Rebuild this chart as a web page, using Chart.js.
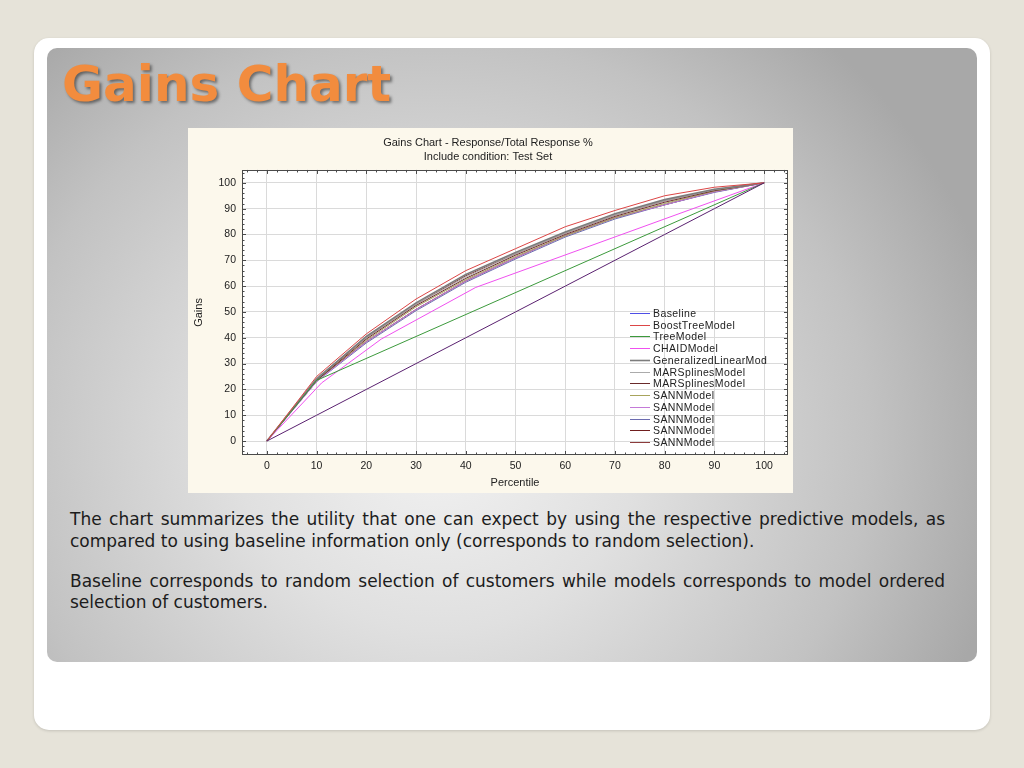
<!DOCTYPE html>
<html>
<head>
<meta charset="utf-8">
<title>Gains Chart</title>
<script src="https://cdn.jsdelivr.net/npm/chart.js@4.4.1/dist/chart.umd.min.js"></script>
<style>
  html, body { margin: 0; padding: 0; }
  body { width: 1024px; height: 768px; background: #e6e3d9; position: relative; overflow: hidden; }
  .card { position: absolute; left: 34px; top: 38px; width: 956px; height: 692px; background: #fff;
          border-radius: 15px; box-shadow: 0 1px 3px rgba(0,0,0,0.15); }
  .panel { position: absolute; left: 47px; top: 48px; width: 930px; height: 614px; border-radius: 10px;
           background: radial-gradient(ellipse 62% 88% at 42% 64%, #f2f2f2 0%, #e0e0e0 35%, #c2c2c2 75%, #a8a8a8 100%); }
  .title { position: absolute; left: 62px; top: 59px; margin: 0; font: bold 50px "DejaVu Sans", Verdana, sans-serif;
           line-height: 1; color: #f28c3e; text-shadow: 2px 2px 3px rgba(0,0,0,0.45); white-space: nowrap; }
  .chartbox { position: absolute; left: 188px; top: 128px; width: 605px; height: 365px; background: #fcf8ec; }
  .text { position: absolute; left: 70px; top: 509px; width: 875px; font: 17px "DejaVu Sans", Verdana, sans-serif;
          line-height: 21.5px; color: #1c1c1c; }
  .text div { text-align: justify; white-space: nowrap; }
  .text .full { text-align-last: justify; }
  .text .gap { height: 18.5px; }
</style>
</head>
<body>
<div class="card"></div>
<div class="panel"></div>
<h1 class="title">Gains Chart</h1>
<div class="chartbox"><canvas id="gains"></canvas></div>
<div class="text">
  <div class="full">The chart summarizes the utility that one can expect by using the respective predictive models, as</div>
  <div>compared to using baseline information only (corresponds to random selection).</div>
  <div class="gap"></div>
  <div class="full">Baseline corresponds to random selection of customers while models corresponds to model ordered</div>
  <div>selection of customers.</div>
</div>
<script>
// tick labels
const xTicks = [0, 10, 20, 30, 40, 50, 60, 70, 80, 90, 100];
const yTicks = [0, 10, 20, 30, 40, 50, 60, 70, 80, 90, 100];

// percentiles where most model curves bend
const percentiles = [0, 10, 20, 30, 40, 50, 60, 70, 80, 90, 100];

// series values (gains %)
const baseline      = [0, 10, 20, 30, 40, 50, 60, 70, 80, 90, 100];
const boostTree     = [0, 25, 41.5, 55, 66, 74.5, 83, 89.3, 95, 98.3, 100];
const treeX         = [0, 10, 100];
const treeModel     = [0, 23.5, 100];
const chaidX        = [0, 11, 23, 42, 100];
const chaidModel    = [0, 22.5, 39.5, 59.5, 100];
const glmModel      = [0, 24, 40.5, 53.5, 64.5, 73, 81, 88, 93.5, 97.5, 100];
const marsModel1    = [0, 24.5, 40, 53, 63.5, 72.5, 80.5, 87.5, 93, 97.3, 100];
const marsModel2    = [0, 23.5, 39.5, 52.5, 63, 72, 80, 87, 92.5, 97, 100];
const sann1         = [0, 23.5, 39, 52, 62.5, 71.5, 79.5, 86.5, 92, 96.8, 100];
const sann2         = [0, 23, 38.5, 51, 62, 71, 79.5, 86.5, 91.5, 96.5, 100];
const sann3         = [0, 23, 38, 50.5, 61.5, 70.5, 79, 86, 91.5, 96.3, 100];
const sann4         = [0, 23.5, 38.5, 51, 62, 71, 79.5, 86.5, 91.5, 96.5, 100];
const sann5         = [0, 24, 40, 53, 64, 72.5, 80.5, 87.5, 93, 97.2, 100];

function pts(xs, ys) {
  return xs.map((x, i) => ({ x: x, y: ys[i] }));
}

function series(label, xs, ys, color, width, legendColor) {
  return {
    label: label,
    data: pts(xs, ys),
    borderColor: color,
    backgroundColor: color,
    borderWidth: width || 1,
    legendColor: legendColor || color,
    pointRadius: 0,
    fill: false,
    tension: 0
  };
}

const chartFont = '"Liberation Sans", Arial, sans-serif';

// white plotting area + framed border with small ticks
const framePlugin = {
  id: 'frame',
  beforeDraw(chart) {
    const a = chart.chartArea, ctx = chart.ctx;
    ctx.save();
    ctx.fillStyle = '#ffffff';
    ctx.fillRect(a.left, a.top, a.right - a.left, a.bottom - a.top);
    ctx.restore();
  },
  afterDraw(chart) {
    const a = chart.chartArea, ctx = chart.ctx;
    const xs = chart.scales.x, ys = chart.scales.y;
    ctx.save();
    ctx.strokeStyle = '#4a4a4a';
    ctx.lineWidth = 1;
    ctx.strokeRect(Math.round(a.left) + 0.5, Math.round(a.top) + 0.5,
                   Math.round(a.right - a.left) - 1, Math.round(a.bottom - a.top) - 1);
    ctx.beginPath();
    for (let v = -4; v <= 104; v += 2) {
      const px = Math.round(xs.getPixelForValue(v)) + 0.5;
      const len = v % 10 === 0 ? 4 : 2.5;
      ctx.moveTo(px, a.top); ctx.lineTo(px, a.top + len);
      ctx.moveTo(px, a.bottom); ctx.lineTo(px, a.bottom - len);
    }
    for (let v = -4; v <= 104; v += 2) {
      const py = Math.round(ys.getPixelForValue(v)) + 0.5;
      const len = v % 10 === 0 ? 4 : 2.5;
      ctx.moveTo(a.left, py); ctx.lineTo(a.left + len, py);
      ctx.moveTo(a.right, py); ctx.lineTo(a.right - len, py);
    }
    ctx.stroke();
    ctx.restore();
  }
};

// legend sits inside the plot, lower right
const insideLegend = {
  id: 'insideLegend',
  afterDraw(chart) {
    const ctx = chart.ctx;
    const left = Math.round(chart.scales.x.getPixelForValue(73));
    const top = chart.scales.y.getPixelForValue(49.6);
    ctx.save();
    ctx.font = '10.5px ' + chartFont;
    ctx.letterSpacing = '0.4px';
    ctx.textBaseline = 'middle';
    ctx.textAlign = 'left';
    chart.data.datasets.forEach((ds, i) => {
      const yy = Math.round(top + i * 11.73) + 0.5;
      ctx.strokeStyle = ds.legendColor;
      ctx.lineWidth = ds.borderWidth;
      ctx.beginPath();
      ctx.moveTo(left, yy);
      ctx.lineTo(left + 20, yy);
      ctx.stroke();
      ctx.fillStyle = '#222';
      ctx.fillText(ds.label, left + 23, yy + 0.5);
    });
    ctx.restore();
  }
};

const ctx = document.getElementById('gains').getContext('2d');
const gainsChart = new Chart(ctx, {
  type: 'line',
  data: {
    datasets: [
      series('Baseline', percentiles, baseline, '#5a2170', 1, '#4f4fe6'),
      series('BoostTreeModel', percentiles, boostTree, '#dc4646'),
      series('TreeModel', treeX, treeModel, '#3c9a3c'),
      series('CHAIDModel', chaidX, chaidModel, '#f050f0'),
      series('GeneralizedLinearMod', percentiles, glmModel, '#7c7c7c', 1.6),
      series('MARSplinesModel', percentiles, marsModel1, '#ababab'),
      series('MARSplinesModel', percentiles, marsModel2, '#6a2a2a'),
      series('SANNModel', percentiles, sann1, '#a8a45c'),
      series('SANNModel', percentiles, sann2, '#c47ad8'),
      series('SANNModel', percentiles, sann3, '#6c6cb0'),
      series('SANNModel', percentiles, sann4, '#701e1e'),
      series('SANNModel', percentiles, sann5, '#8c3c3c')
    ]
  },
  options: {
    responsive: true,
    maintainAspectRatio: false,
    animation: false,
    layout: { padding: { right: 5 } },
    plugins: {
      legend: { display: false },
      tooltip: { enabled: false },
      title: {
        display: true,
        text: ['Gains Chart - Response/Total Response %', 'Include condition: Test Set'],
        color: '#222',
        font: { family: chartFont, size: 11, weight: 'normal', lineHeight: 1.27 },
        padding: { top: 8, bottom: 6 }
      }
    },
    scales: {
      x: {
        type: 'linear',
        min: -5,
        max: 104.8,
        afterBuildTicks: s => { s.ticks = xTicks.map(v => ({ value: v })); },
        afterFit: s => { s.height = 38; },
        grid: { color: '#dadada', drawTicks: false },
        border: { display: false },
        ticks: { color: '#222', padding: 5, font: { family: chartFont, size: 10.5 } },
        title: { display: true, text: 'Percentile', color: '#222',
                 font: { family: chartFont, size: 11 }, padding: { top: 4, bottom: 3 } }
      },
      y: {
        type: 'linear',
        min: -5.4,
        max: 105,
        afterBuildTicks: s => { s.ticks = yTicks.map(v => ({ value: v })); },
        afterFit: s => { s.width = 54; },
        grid: { color: '#dadada', drawTicks: false },
        border: { display: false },
        ticks: { color: '#222', padding: 6, font: { family: chartFont, size: 10.5 } },
        title: { display: true, text: 'Gains', color: '#222',
                 font: { family: chartFont, size: 11 }, padding: { top: 4, bottom: 4 } }
      }
    }
  },
  plugins: [framePlugin, insideLegend]
});
</script>
</body>
</html>
